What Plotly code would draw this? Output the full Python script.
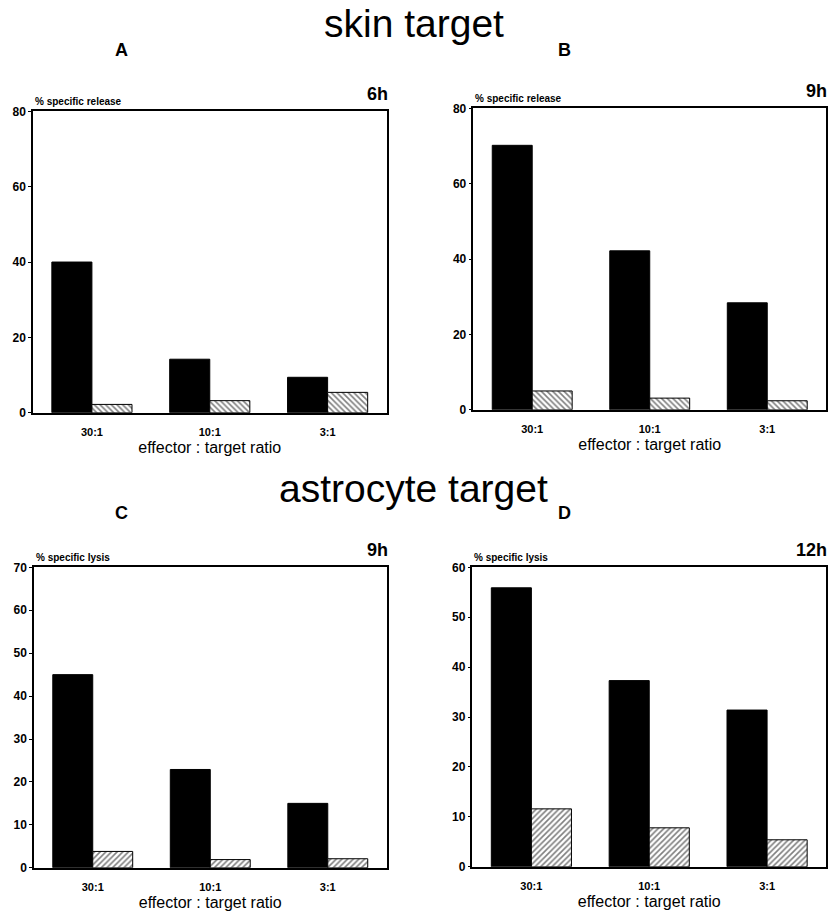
import plotly.graph_objects as go

categories = ["30:1", "10:1", "3:1"]

# Panel A: skin target, 6h (% specific release)
a_immune = [40.0, 14.2, 9.4]
a_control = [2.2, 3.2, 5.4]
# Panel B: skin target, 9h
b_immune = [70.2, 42.2, 28.4]
b_control = [5.0, 3.1, 2.4]
# Panel C: astrocyte target, 9h (% specific lysis)
c_immune = [45.0, 22.9, 15.0]
c_control = [3.8, 1.9, 2.1]
# Panel D: astrocyte target, 12h
d_immune = [55.9, 37.3, 31.4]
d_control = [11.6, 7.8, 5.4]

panels = [
    dict(key="", imm=a_immune, ctl=a_control, ymax=80, dtick=20, hatch="\\",
         xd=[0.0399, 0.4674], yd=[0.5527, 0.8849], ylab="% specific release", time="6h"),
    dict(key="2", imm=b_immune, ctl=b_control, ymax=80, dtick=20, hatch="\\",
         xd=[0.5725, 0.9988], yd=[0.5559, 0.8882], ylab="% specific release", time="9h"),
    dict(key="3", imm=c_immune, ctl=c_control, ymax=70, dtick=10, hatch="/",
         xd=[0.0411, 0.4674], yd=[0.0510, 0.3822], ylab="% specific lysis", time="9h"),
    dict(key="4", imm=d_immune, ctl=d_control, ymax=60, dtick=10, hatch="/",
         xd=[0.5713, 0.9988], yd=[0.0521, 0.3822], ylab="% specific lysis", time="12h"),
]

FONT = "Liberation Sans, Arial, sans-serif"
fig = go.Figure()
annotations = []
layout = {}

for p in panels:
    k = p["key"]
    xa = "x" + k
    ya = "y" + k
    fig.add_trace(go.Bar(
        x=categories, y=p["imm"], xaxis=xa, yaxis=ya, showlegend=False,
        marker=dict(color="black", line=dict(color="black", width=1)),
    ))
    fig.add_trace(go.Bar(
        x=categories, y=p["ctl"], xaxis=xa, yaxis=ya, showlegend=False,
        marker=dict(color="white", line=dict(color="black", width=1),
                    pattern=dict(shape=p["hatch"], fgcolor="black", bgcolor="white",
                                 size=4, solidity=0.4)),
    ))
    layout["xaxis" + k] = dict(
        domain=p["xd"], anchor=ya, showline=True, linecolor="black", linewidth=1.5,
        mirror=True, ticks="", showgrid=False, zeroline=False, ticklabelstandoff=8,
        tickfont=dict(family=FONT, size=11, color="black", weight="bold"),
        title=dict(text="effector : target ratio", standoff=5,
                   font=dict(family=FONT, size=16, color="black")),
    )
    layout["yaxis" + k] = dict(
        domain=p["yd"], anchor=xa, range=[0, p["ymax"]], dtick=p["dtick"],
        showline=True, linecolor="black", linewidth=1.5, mirror=True,
        ticks="outside", ticklen=3, tickcolor="black", showgrid=False, zeroline=False,
        tickfont=dict(family=FONT, size=12, color="black", weight="bold"),
    )
    # y-axis label above the axis
    annotations.append(dict(
        text="<b>" + p["ylab"] + "</b>", xref="paper", yref="paper",
        x=p["xd"][0], y=p["yd"][1] + 0.003, xanchor="left", yanchor="bottom",
        showarrow=False, font=dict(family=FONT, size=10, color="black"),
    ))
    # time label
    annotations.append(dict(
        text="<b>" + p["time"] + "</b>", xref="paper", yref="paper",
        x=p["xd"][1] + 0.004, y=p["yd"][1] + 0.006, xanchor="right", yanchor="bottom",
        showarrow=False, font=dict(family=FONT, size=18, color="black"),
    ))

# Section titles and panel letters
for txt, x, y, size in [
    ("skin target", 0.5, 0.982, 39),
    ("astrocyte target", 0.5, 0.469, 39),
]:
    annotations.append(dict(text=txt, xref="paper", yref="paper", x=x, y=y,
                            xanchor="center", yanchor="middle", showarrow=False,
                            font=dict(family=FONT, size=size, color="black")))
for txt, x, y in [("A", 0.147, 0.953), ("B", 0.682, 0.953),
                  ("C", 0.147, 0.442), ("D", 0.682, 0.442)]:
    annotations.append(dict(text="<b>" + txt + "</b>", xref="paper", yref="paper", x=x, y=y,
                            xanchor="center", yanchor="middle", showarrow=False,
                            font=dict(family=FONT, size=18, color="black")))

fig.update_layout(
    width=828, height=921, margin=dict(l=0, r=0, t=0, b=0),
    paper_bgcolor="white", plot_bgcolor="white",
    barmode="group", bargap=0.32, bargroupgap=0.0,
    annotations=annotations, font=dict(family=FONT, color="black"),
    **layout,
)

fig.write_html("out.html")
